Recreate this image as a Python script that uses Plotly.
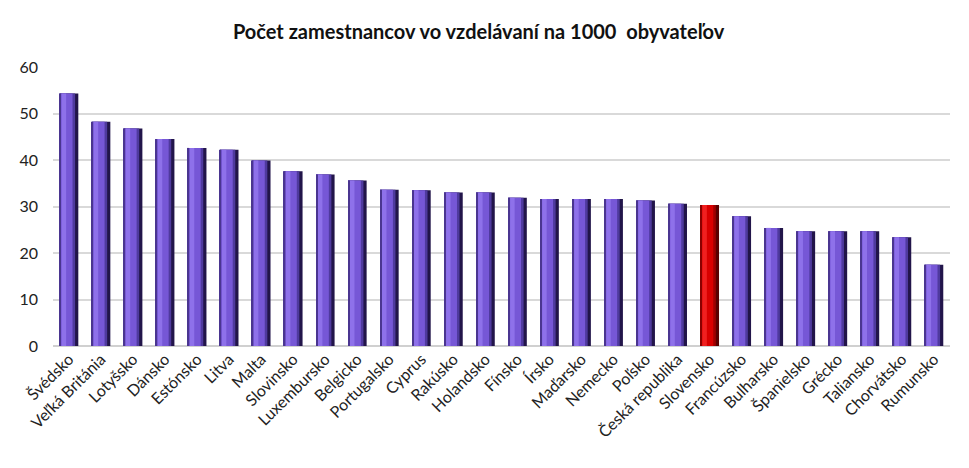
import plotly.graph_objects as go

countries = ["Švédsko", "Veľká Británia", "Lotyšsko", "Dánsko", "Estónsko", "Litva", "Malta",
             "Slovinsko", "Luxembursko", "Belgicko", "Portugalsko", "Cyprus", "Rakúsko",
             "Holandsko", "Fínsko", "Írsko", "Maďarsko", "Nemecko", "Poľsko", "Česká republika",
             "Slovensko", "Francúzsko", "Bulharsko", "Španielsko", "Grécko", "Taliansko",
             "Chorvátsko", "Rumunsko"]
values = [54.3, 48.2, 46.8, 44.5, 42.6, 42.2, 39.9, 37.6, 36.9, 35.6, 33.6, 33.5, 33.0,
          33.0, 31.9, 31.6, 31.6, 31.6, 31.3, 30.6, 30.3, 27.9, 25.4, 24.7, 24.7, 24.7,
          23.4, 17.5]
highlight = "Slovensko"
y_ticks = [0, 10, 20, 30, 40, 50, 60]

dark = ["#5a0000" if c == highlight else "#22154a" for c in countries]
shade = ["#a00000" if c == highlight else "#4f3a9e" for c in countries]
mid = ["#d80000" if c == highlight else "#7657d6" for c in countries]
light = ["#f02020" if c == highlight else "#8e71ea" for c in countries]
edge = ["#8a0000" if c == highlight else "#4a3590" for c in countries]

W, H = 953, 452  # page body has an 8px margin

fig = go.Figure()
fig.add_trace(go.Bar(x=countries, y=values, width=0.58, offset=-0.29,
                     marker=dict(color=dark, line=dict(width=0)), hoverinfo="skip"))
fig.add_trace(go.Bar(x=countries, y=values, width=0.48, offset=-0.29,
                     marker=dict(color=shade, line=dict(width=0)), hoverinfo="skip"))
fig.add_trace(go.Bar(x=countries, y=values, width=0.40, offset=-0.29,
                     marker=dict(color=mid, line=dict(width=0)), hoverinfo="skip"))
fig.add_trace(go.Bar(x=countries, y=values, width=0.14, offset=-0.23,
                     marker=dict(color=light, line=dict(width=0)), hoverinfo="skip"))
fig.add_trace(go.Bar(x=countries, y=values, width=0.04, offset=-0.29,
                     marker=dict(color=edge, line=dict(width=0)), hoverinfo="skip"))

fig.update_layout(
    width=W, height=H,
    margin=dict(l=40, r=11, t=59, b=114),
    barmode="overlay",
    showlegend=False,
    plot_bgcolor="white", paper_bgcolor="white",
    font=dict(family="Lato, sans-serif", color="#222222"),
    title=dict(text="<b>Počet zamestnancov vo vzdelávaní na 1000  obyvateľov</b>",
               x=0.4745, xref="paper", xanchor="center",
               y=1 - 24 / H, yref="container", yanchor="middle",
               font=dict(family="Lato, sans-serif", size=20, color="#111111")),
    xaxis=dict(tickangle=-45, tickfont=dict(size=16, color="#222222"),
               showgrid=False, showline=False, ticks="", zeroline=False),
    yaxis=dict(range=[0, 60], tickvals=y_ticks, tickfont=dict(size=16, color="#222222"),
               showgrid=True, gridcolor="#d9d9d9", gridwidth=1.5,
               zeroline=True, zerolinecolor="#d0d0d0", zerolinewidth=1.5,
               showline=False, ticks="", ticklabelstandoff=14),
)

fig.write_html("out.html")
